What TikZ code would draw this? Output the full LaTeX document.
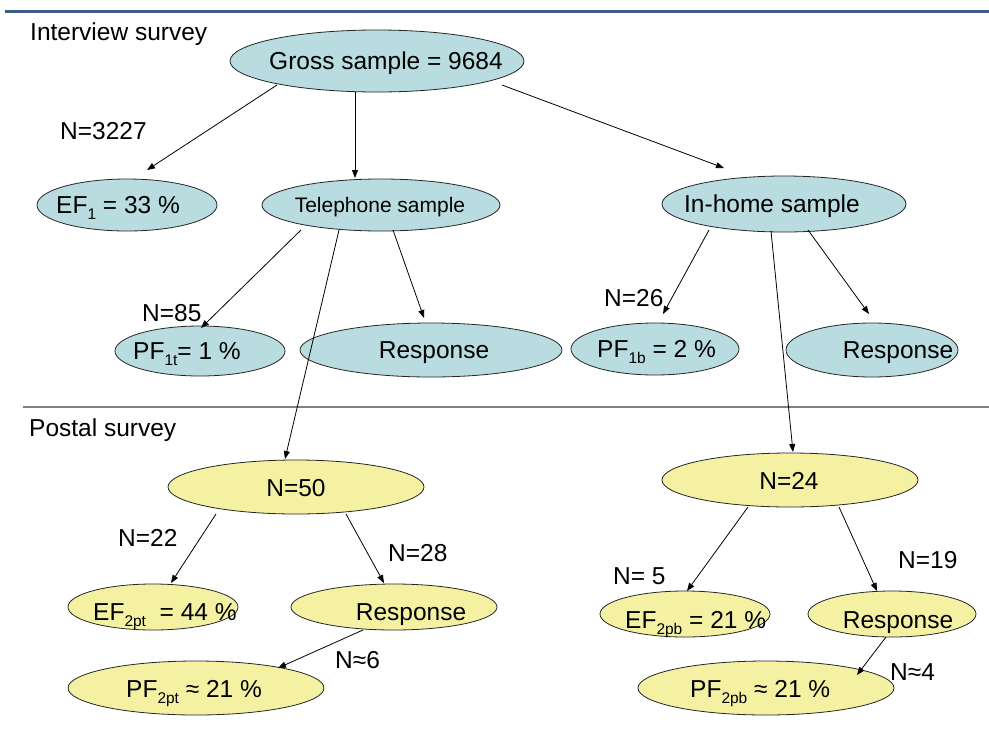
\documentclass[tikz,border=0pt]{standalone}
\usepackage{fontspec}
\setmainfont{Liberation Sans}
\usetikzlibrary{arrows.meta,calc,shapes.geometric}
\definecolor{cblue}{HTML}{B8DCE0}
\definecolor{cyell}{HTML}{F4F2A2}
\definecolor{topblue}{HTML}{3E5C88}
\newcommand\subx[1]{\raisebox{-6pt}{\fontsize{15.5}{15.5}\selectfont #1}}
\begin{document}
\begin{tikzpicture}[x=1pt,y=-1pt,
 ellb/.style={ellipse,draw=black!85,line width=0.8pt,fill=cblue,inner sep=0pt},
 elly/.style={ellipse,draw=black!85,line width=0.8pt,fill=cyell,inner sep=0pt},
 txt/.style={inner sep=0pt,font=\fontsize{24.5}{24.5}\selectfont,anchor=base west},
 txtc/.style={inner sep=0pt,font=\fontsize{24.5}{24.5}\selectfont,anchor=base},
 arr/.style={line width=0.8pt,-{Triangle[length=8pt,width=6pt]}}]
\useasboundingbox (0,0) rectangle (989,729);
\fill[white] (0,0) rectangle (989,729);
% header rule and separator
\coordinate (hl) at (5,11.5);
\coordinate (hr) at (989,11.5);
\draw[topblue,line width=3pt] (hl) -- (hr);
\coordinate (sl) at (23,407);
\coordinate (sr) at (989,407);
\draw[black!50,line width=1.2pt] (sl) -- (sr);
\node[txt] (lint) at (30,40) {Interview survey};
\node[txt] (lpost) at (29,436) {Postal survey};
% ellipses
\node[ellb,minimum width=294pt,minimum height=62pt] (gross) at (377,61) {};
\node[ellb,minimum width=180pt,minimum height=52pt] (ef1) at (127,205) {};
\node[ellb,minimum width=238pt,minimum height=52pt] (tel) at (381,205) {};
\node[ellb,minimum width=244pt,minimum height=56pt] (inhome) at (784,204) {};
\node[ellb,minimum width=170pt,minimum height=50pt] (pf1t) at (200,351) {};
\node[ellb,minimum width=262pt,minimum height=54pt] (respt) at (431,350) {};
\node[ellb,minimum width=168pt,minimum height=52pt] (pf1b) at (655,349) {};
\node[ellb,minimum width=172pt,minimum height=54pt] (respb) at (872,350) {};
\node[elly,minimum width=256pt,minimum height=54pt] (n50) at (296,487) {};
\node[elly,minimum width=256pt,minimum height=54pt] (n24) at (790,480) {};
\node[elly,minimum width=170pt,minimum height=46pt] (ef2pt) at (153,607) {};
\node[elly,minimum width=206pt,minimum height=46pt] (resppt) at (394,607) {};
\node[elly,minimum width=256pt,minimum height=54pt] (pf2pt) at (196,688) {};
\node[elly,minimum width=170pt,minimum height=46pt] (ef2pb) at (685,614) {};
\node[elly,minimum width=168pt,minimum height=46pt] (resppb) at (892,614) {};
\node[elly,minimum width=256pt,minimum height=54pt] (pf2pb) at (766,688) {};
% texts in ellipses
\node[txtc] (tgross) at (386,69) {Gross sample = 9684};
\node[txt] (tef1) at (56,213) {EF\subx{1} = 33 \%};
\node[txtc,font=\fontsize{21}{21}\selectfont] (ttel) at (380,212) {Telephone sample};
\node[txtc] (tinhome) at (772,212) {In-home sample};
\node[txt] (tpf1t) at (133,359) {PF\subx{1t}= 1 \%};
\node[txtc] (trespt) at (434,358) {Response};
\node[txt] (tpf1b) at (597,357) {PF\subx{1b} = 2 \%};
\node[txtc] (trespb) at (898,358) {Response};
\node[txtc] (tn50) at (296,496) {N=50};
\node[txtc] (tn24) at (789,489) {N=24};
\node[txt] (tef2pt) at (93,620) {EF\subx{2pt}\ \ = 44 \%};
\node[txtc] (tresppt) at (411,620) {Response};
\node[txt] (tpf2pt) at (126,697) {PF\subx{2pt} ≈ 21 \%};
\node[txt] (tef2pb) at (625,628) {EF\subx{2pb} = 21 \%};
\node[txtc] (tresppb) at (898,628) {Response};
\node[txt] (tpf2pb) at (690,697) {PF\subx{2pb} ≈ 21 \%};
% labels
\node[txt] (l3227) at (60,139) {N=3227};
\node[txt] (l85) at (142,321) {N=85};
\node[txt] (l26) at (604,306) {N=26};
\node[txt] (l22) at (118,546) {N=22};
\node[txt] (l28) at (388,561) {N=28};
\node[txt] (l5) at (613,584) {N= 5};
\node[txt] (l19) at (898,568) {N=19};
\node[txt] (l6) at (335,668) {N≈6};
\node[txt] (l4) at (890,680) {N≈4};
% arrows
\draw[arr] ($(gross)+(-100,24)$) -- ($(ef1)+(20,-35)$);
\draw[arr] ($(gross)+(-22,31)$) -- ($(tel)+(-26,-27)$);
\draw[arr] ($(gross)+(125,24)$) -- ($(inhome)+(-60,-36)$);
\draw[arr] ($(tel)+(-80,25)$) -- ($(pf1t)+(1,-23)$);
\draw[arr] ($(tel)+(12,25)$) -- ($(respt)+(-7,-32)$);
\draw[arr] ($(tel)+(-42,25)$) -- ($(n50)+(-11,-28)$);
\draw[arr] ($(inhome)+(-75,26)$) -- ($(pf1b)+(8,-35)$);
\draw[arr] ($(inhome)+(24,26)$) -- ($(respb)+(-3,-36)$);
\draw[arr] ($(inhome)+(-13,27)$) -- ($(n24)+(3,-28)$);
\draw[arr] ($(n50)+(-80,27)$) -- ($(ef2pt)+(18,-24)$);
\draw[arr] ($(n50)+(50,27)$) -- ($(resppt)+(-10,-24)$);
\draw[arr] ($(n24)+(-42,27)$) -- ($(ef2pb)+(2,-23)$);
\draw[arr] ($(n24)+(49,27)$) -- ($(resppb)+(-15,-23)$);
\draw[arr] ($(resppt)+(-31,23)$) -- ($(pf2pt)+(82,-20)$);
\draw[arr] ($(resppb)+(-6,23)$) -- ($(pf2pb)+(91,-13)$);
\end{tikzpicture}
\end{document}
